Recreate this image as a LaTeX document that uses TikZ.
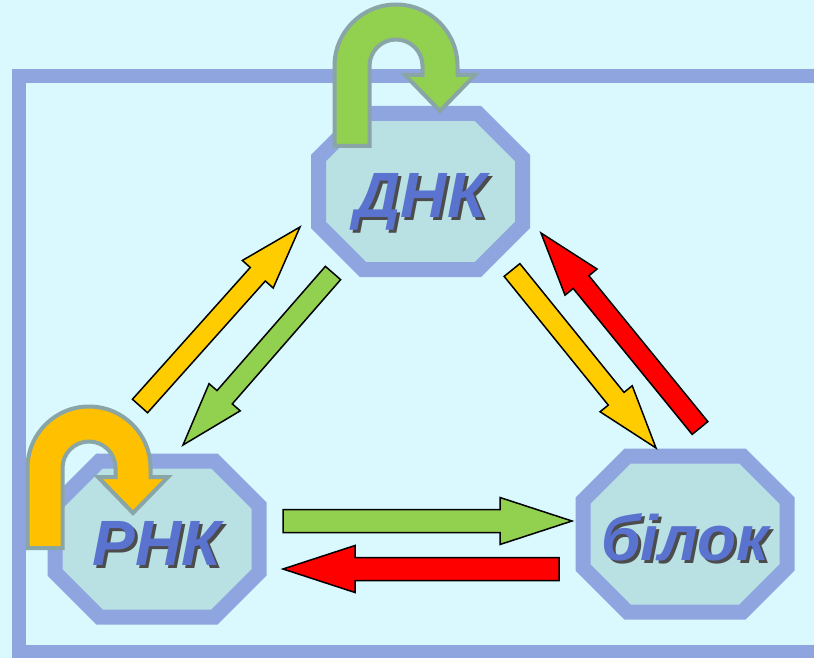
\documentclass[tikz,border=0pt]{standalone}
\usepackage{fontspec}
\setmainfont{Liberation Sans}
\usepackage{tikz}
\usetikzlibrary{calc}
\usetikzlibrary{backgrounds}

\definecolor{bgcyan}{HTML}{D9F9FF}
\definecolor{frameblue}{HTML}{8FA5E0}
\definecolor{octfill}{HTML}{B9E0E3}
\definecolor{txtblue}{HTML}{5A73CF}
\definecolor{leafgreen}{HTML}{92D050}
\definecolor{amber}{HTML}{FFCC00}
\definecolor{loopamber}{HTML}{FFC000}
\definecolor{loopgray}{HTML}{8AA5A5}

\tikzstyle{molecule} = [rectangle, minimum width=204pt, minimum height=156pt, inner sep=0pt, outer sep=0pt, text=txtblue, font=\fontsize{64}{64}\selectfont\bfseries\itshape, text height=52pt, text depth=0pt]
\tikzstyle{octline} = [draw=frameblue, line width=15pt, fill=octfill, line join=miter]
\tikzstyle{fatline} = [draw=black, line width=1.5pt, line join=miter]
\tikzstyle{loopline} = [draw=loopgray, line width=4pt, line join=miter]

\newcommand{\shadowed}[1]{\makebox[0pt][l]{\kern3pt\raisebox{-3pt}{\textcolor{black!70}{#1}}}#1}

% octagon round a node
\newcommand{\octagon}[1]{%
  \draw[octline] ($(#1.north west)+(44.6,0)$) -- ($(#1.north east)+(-44.6,0)$) -- ($(#1.north east)+(0,44.6)$) -- ($(#1.south east)+(0,-44.6)$) -- ($(#1.south east)+(-44.6,0)$) -- ($(#1.south west)+(44.6,0)$) -- ($(#1.south west)+(0,-44.6)$) -- ($(#1.north west)+(0,44.6)$) -- cycle;
}

% block arrow: [scale]{tail}{tip}{colour}
\newcommand{\fatarrow}[4][1]{%
  \pgfmathsetlengthmacro{\faShaft}{#1*11.5pt}%
  \pgfmathsetlengthmacro{\faHead}{#1*23.5pt}%
  \pgfmathsetlengthmacro{\faLen}{#1*72pt}%
  \coordinate (faBase) at ($(#3)!\faLen!(#2)$);
  \draw[fatline, fill=#4] ($(#2)!\faShaft!90:(#3)$) -- ($(faBase)!\faShaft!90:(#3)$) -- ($(faBase)!\faHead!90:(#3)$) -- (#3) -- ($(faBase)!\faHead!-90:(#3)$) -- ($(faBase)!\faShaft!-90:(#3)$) -- ($(#2)!\faShaft!-90:(#3)$) -- cycle;
}

% u-turn arrow round {centre}{colour}
\newcommand{\uturn}[2]{%
  \draw[loopline, fill=#2] ($(#1)+(-61.5,80)$) -- ($(#1)+(-61.5,0)$) arc[start angle=180, end angle=0, radius=61.5pt] -- ($(#1)+(61.5,9)$) -- ($(#1)+(79,9)$) -- ($(#1)+(44,45)$) -- ($(#1)+(9,9)$) -- ($(#1)+(26.5,9)$) -- ($(#1)+(26.5,0)$) arc[start angle=0, end angle=180, radius=26.5pt] -- ($(#1)+(-26.5,80)$) -- cycle;
}

\begin{document}
\begin{tikzpicture}[x=1pt, y=-1pt]

    \useasboundingbox (0,0) rectangle (814,658);

    \node (dnk) [molecule] at (420.5,191.5) {\shadowed{ДНК}};
    \node (rnk) [molecule] at (157,539) {\shadowed{РНК}};
    \node (bilok) [molecule] at (685,534) {\shadowed{білок}};

    \begin{scope}[on background layer]
        \fill[bgcyan] (0,0) rectangle (814,658);
        \draw[frameblue, line width=14pt] (19,76) rectangle (840,652);
        \octagon{dnk}
        \octagon{rnk}
        \octagon{bilok}
    \end{scope}

    \coordinate (dnkLoop) at (396,66);
    \coordinate (rnkLoop) at (89,468);
    \uturn{dnkLoop}{leafgreen}
    \uturn{rnkLoop}{loopamber}

    \coordinate (rnkDnkTail) at (140,406);
    \coordinate (rnkDnkTip) at (300,227);
    \coordinate (dnkRnkTail) at (333,273);
    \coordinate (dnkRnkTip) at (183,445);
    \coordinate (dnkBilTail) at (512,270);
    \coordinate (dnkBilTip) at (656,448);
    \coordinate (bilDnkTail) at (700,428);
    \coordinate (bilDnkTip) at (541,233);
    \coordinate (rnkBilTail) at (283,521);
    \coordinate (rnkBilTip) at (572,521);
    \coordinate (bilRnkTail) at (559,569);
    \coordinate (bilRnkTip) at (283,569);

    \fatarrow[0.88]{rnkDnkTail}{rnkDnkTip}{amber}
    \fatarrow[0.88]{dnkRnkTail}{dnkRnkTip}{leafgreen}
    \fatarrow[0.88]{dnkBilTail}{dnkBilTip}{amber}
    \fatarrow[0.88]{bilDnkTail}{bilDnkTip}{red}
    \fatarrow{rnkBilTail}{rnkBilTip}{leafgreen}
    \fatarrow{bilRnkTail}{bilRnkTip}{red}

\end{tikzpicture}
\end{document}
